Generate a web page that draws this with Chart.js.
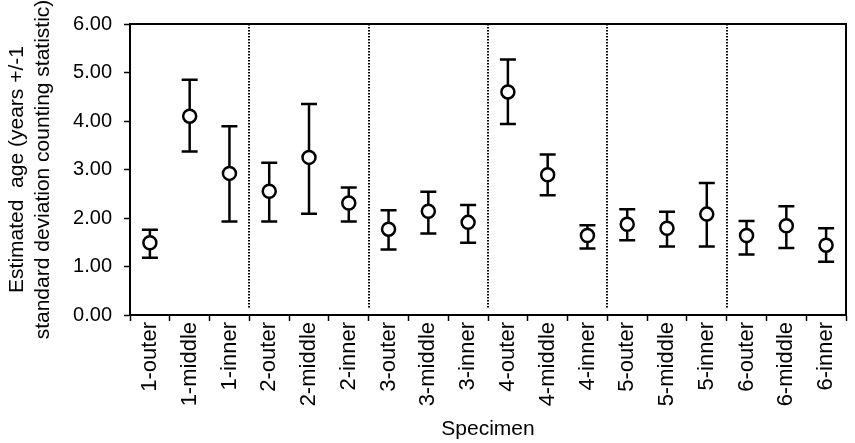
<!DOCTYPE html>
<html lang="en">
<head>
  <meta charset="UTF-8">
  <title>Estimated age by specimen</title>
  <script src="https://cdn.jsdelivr.net/npm/chart.js"></script>
  <style>
    body { margin: 0; background: #fff; }
    #wrap { width: 855px; height: 443px; }
  </style>
</head>
<body>

<div id="wrap"><canvas id="ageChart" width="855" height="443"></canvas></div>

<script>
  const specimens = [
    '1-outer', '1-middle', '1-inner',
    '2-outer', '2-middle', '2-inner',
    '3-outer', '3-middle', '3-inner',
    '4-outer', '4-middle', '4-inner',
    '5-outer', '5-middle', '5-inner',
    '6-outer', '6-middle', '6-inner'
  ];

  // estimated age and the +/-1 sd counting-statistic bounds (years)
  const age   = [1.49, 4.10, 2.92, 2.55, 3.25, 2.31, 1.77, 2.14, 1.91, 4.60, 2.89, 1.64, 1.87, 1.79, 2.08, 1.64, 1.84, 1.44];
  const upper = [1.76, 4.85, 3.89, 3.14, 4.35, 2.63, 2.16, 2.54, 2.27, 5.27, 3.31, 1.85, 2.18, 2.13, 2.72, 1.94, 2.24, 1.79];
  const lower = [1.18, 3.37, 1.93, 1.93, 2.09, 1.93, 1.35, 1.68, 1.49, 3.94, 2.47, 1.37, 1.54, 1.41, 1.41, 1.25, 1.38, 1.10];

  const yTicks = [0, 1, 2, 3, 4, 5, 6];
  const perGroup = 3;

  const fontFamily = '"Liberation Sans", Arial, sans-serif';

  // error bars go under the markers
  const errorBars = {
    id: 'errorBars',
    beforeDatasetsDraw(chart) {
      const { ctx, scales: { x, y } } = chart;
      ctx.save();
      ctx.strokeStyle = '#000';
      ctx.lineWidth = 2.5;
      ctx.lineCap = 'butt';
      const cap = 8;
      specimens.forEach((s, i) => {
        const px = x.getPixelForValue(i);
        const top = y.getPixelForValue(upper[i]);
        const bot = y.getPixelForValue(lower[i]);
        ctx.beginPath();
        ctx.moveTo(px, top); ctx.lineTo(px, bot);
        ctx.moveTo(px - cap, top); ctx.lineTo(px + cap, top);
        ctx.moveTo(px - cap, bot); ctx.lineTo(px + cap, bot);
        ctx.stroke();
      });
      ctx.restore();
    }
  };

  // dotted lines between specimen groups, plus the frame on top/right
  const frame = {
    id: 'frame',
    beforeDatasetsDraw(chart) {
      const { ctx, chartArea: a, scales: { x } } = chart;
      ctx.save();
      ctx.strokeStyle = '#000';
      ctx.lineWidth = 2;
      ctx.setLineDash([1.5, 1.5]);
      for (let i = perGroup; i < specimens.length; i += perGroup) {
        const px = Math.round((x.getPixelForValue(i - 1) + x.getPixelForValue(i)) / 2);
        ctx.beginPath();
        ctx.moveTo(px, a.top);
        ctx.lineTo(px, a.bottom - 6);
        ctx.stroke();
      }
      ctx.restore();
    },
    afterDraw(chart) {
      const { ctx, chartArea: a } = chart;
      ctx.save();
      ctx.strokeStyle = '#000';
      ctx.lineWidth = 2;
      ctx.beginPath();
      ctx.moveTo(a.left, a.top);
      ctx.lineTo(a.right, a.top);
      ctx.lineTo(a.right, a.bottom);
      ctx.stroke();
      ctx.restore();
    }
  };

  new Chart(document.getElementById('ageChart'), {
    type: 'line',
    data: {
      labels: specimens,
      datasets: [{
        data: age,
        showLine: false,
        pointRadius: 6.5,
        pointHoverRadius: 6.5,
        pointBorderWidth: 2.5,
        pointBorderColor: '#000',
        pointBackgroundColor: '#fff'
      }]
    },
    options: {
      responsive: false,
      animation: false,
      layout: { padding: { top: 19, right: 2, left: 0, bottom: 0 } },
      plugins: { legend: { display: false }, tooltip: { enabled: false } },
      scales: {
        x: {
          type: 'category',
          offset: true,
          afterFit(scale) { scale.height = 128; },
          grid: {
            offset: true,
            drawOnChartArea: false,
            drawTicks: true,
            tickLength: 6,
            tickColor: '#000',
            tickWidth: 1.5
          },
          border: { display: true, color: '#000', width: 2 },
          ticks: {
            color: '#000',
            autoSkip: false,
            minRotation: 90,
            maxRotation: 90,
            padding: 1,
            font: { family: fontFamily, size: 22 }
          },
          title: {
            display: true,
            text: 'Specimen',
            color: '#000',
            padding: { top: 0, bottom: 1 },
            font: { family: fontFamily, size: 21 }
          }
        },
        y: {
          min: 0,
          max: 6,
          afterFit(scale) { scale.width = 130; },
          afterBuildTicks(scale) { scale.ticks = yTicks.map(v => ({ value: v })); },
          grid: {
            drawOnChartArea: false,
            drawTicks: true,
            tickLength: 6,
            tickColor: '#000',
            tickWidth: 1.5
          },
          border: { display: true, color: '#000', width: 2 },
          ticks: {
            color: '#000',
            padding: 12,
            font: { family: fontFamily, size: 20 },
            callback: v => v.toFixed(2)
          },
          title: {
            display: true,
            text: ['Estimated  age (years +/-1', 'standard deviation counting statistic)'],
            color: '#000',
            padding: { top: 5, bottom: 0 },
            font: { family: fontFamily, size: 21, lineHeight: 1.2 }
          }
        }
      }
    },
    plugins: [frame, errorBars]
  });
</script>

</body>
</html>
